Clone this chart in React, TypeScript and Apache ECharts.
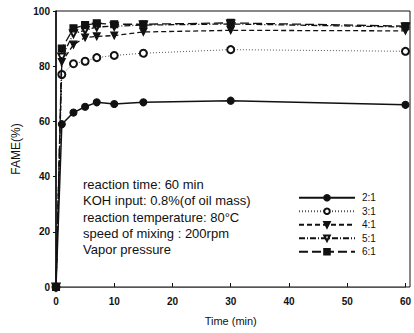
import React, { useEffect, useRef } from "react";
import * as echarts from "echarts";

const times = [0, 1, 3, 5, 7, 10, 15, 30, 60];
const ratioNames = ["2:1", "3:1", "4:1", "5:1", "6:1"];
const fame21 = [0, 59, 63.2, 65.3, 66.9, 66.3, 66.9, 67.5, 66];
const fame31 = [0, 77, 80.9, 81.8, 83.1, 83.9, 84.7, 86, 85.4];
const fame41 = [0, 81.5, 87.8, 90.4, 90.8, 91.1, 92.4, 93, 92.8];
const fame51 = [0, 83.3, 91.8, 93, 94.2, 94.5, 94.9, 95.3, 94.2];
const fame61 = [0, 86.4, 93.7, 94.9, 95.5, 95.2, 95.2, 95.7, 94.5];
const noteLines = [
  "reaction time: 60 min",
  "KOH input: 0.8%(of oil mass)",
  "reaction temperature: 80\u00B0C",
  "speed of mixing : 200rpm",
  "Vapor pressure",
];
const xTicks = [0, 60, 10];
const yTicks = [0, 100, 20];

const pair = (vals: number[]) => times.map((t, i) => [t, vals[i]]);

export default function App() {
  const ref = useRef<HTMLDivElement>(null);
  useEffect(() => {
    document.body.style.margin = "0";
    const chart = echarts.init(ref.current!, null, { renderer: "svg" });
    const font = "Liberation Sans, Arial, sans-serif";
    const mk = (
      name: string,
      vals: number[],
      symbol: string,
      rotate: number,
      lineType: any,
      z: number,
      width = 1.3,
      lineColor = "#111"
    ) => ({
      name,
      type: "line",
      data: pair(vals),
      symbol,
      symbolSize: 7,
      symbolRotate: rotate,
      showAllSymbol: true,
      clip: false,
      z,
      itemStyle: { color: "#111", borderColor: "#111", borderWidth: 1.1 },
      lineStyle: { color: lineColor, width, type: lineType },
    });
    chart.setOption({
      animation: false,
      grid: { left: 56, right: 4, top: 11, bottom: 46 },
      xAxis: {
        type: "value",
        min: xTicks[0],
        max: xTicks[1],
        interval: xTicks[2],
        name: "Time (min)",
        nameLocation: "middle",
        nameGap: 28,
        nameTextStyle: { fontFamily: font, fontSize: 11, color: "#111" },
        axisLine: { lineStyle: { color: "#555", width: 1 } },
        axisTick: { inside: true, length: 4, lineStyle: { color: "#111" } },
        axisLabel: { fontFamily: font, fontSize: 10, fontWeight: "bold", color: "#111", margin: 9 },
        splitLine: { show: false },
      },
      yAxis: {
        type: "value",
        min: yTicks[0],
        max: yTicks[1],
        interval: yTicks[2],
        name: "FAME(%)",
        nameLocation: "middle",
        nameGap: 32,
        nameTextStyle: { fontFamily: font, fontSize: 12, color: "#111" },
        axisLine: { lineStyle: { color: "#111", width: 1.6 } },
        axisTick: { length: 3, lineStyle: { color: "#111" } },
        axisLabel: { fontFamily: font, fontSize: 10, fontWeight: "bold", color: "#111", margin: 6 },
        splitLine: { show: false },
      },
      legend: {
        orient: "vertical",
        left: 293,
        top: 187,
        itemWidth: 56,
        itemHeight: 7,
        itemGap: 2,
        data: ratioNames,
        textStyle: { fontFamily: font, fontSize: 10, lineHeight: 11.5, color: "#111", padding: [0, 0, 0, 2] },
      },
      graphic: [
        {
          type: "rect",
          shape: { x: 56, y: 11, width: 354, height: 276 },
          style: { fill: "none", stroke: "#111", lineWidth: 1 },
          silent: true,
        },
        ...noteLines.map((t, i) => ({
          type: "text",
          left: 83,
          top: 178 + i * 16.3,
          style: { text: t, fontFamily: font, fontSize: 13, fill: "#111" },
        })),
      ],
      series: [
        mk(ratioNames[1], fame31, "emptyCircle", 0, [1, 2], 5, 1, "#555"),
        mk(ratioNames[2], fame41, "triangle", 180, [5, 3], 6),
        mk(ratioNames[3], fame51, "emptyTriangle", 180, [6, 2, 1, 2], 7),
        mk(ratioNames[4], fame61, "rect", 0, [9, 4], 8),
        mk(ratioNames[0], fame21, "circle", 0, "solid", 20, 1.5),
      ],
    });
    return () => chart.dispose();
  }, []);
  return <div ref={ref} style={{ width: 414, height: 333 }} />;
}
